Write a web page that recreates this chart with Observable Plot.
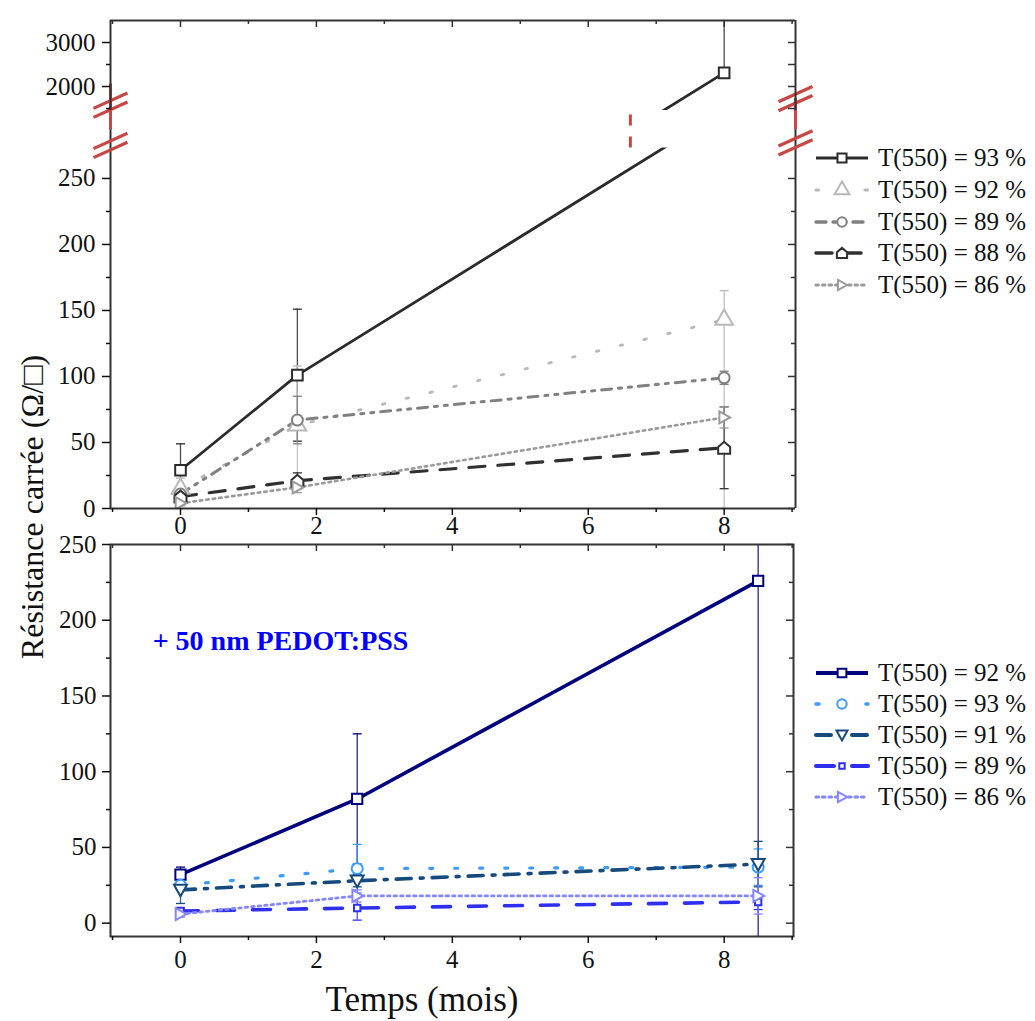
<!DOCTYPE html>
<html><head><meta charset="utf-8">
<script src="https://cdn.jsdelivr.net/npm/d3@7"></script>
<script src="https://cdn.jsdelivr.net/npm/@observablehq/plot@0.6"></script>
<style>
body{margin:0;background:#fff;}
#wrap{position:relative;width:1035px;height:1021px;overflow:hidden;font-family:"Liberation Serif","Times New Roman",serif;color:#111;}
#wrap svg{position:absolute;left:0;background:transparent !important;overflow:visible;}
#wrap svg text{font-family:"Liberation Serif","Times New Roman",serif !important;font-variant:normal !important;}
.lg{position:absolute;display:flex;align-items:center;height:30px;font-size:25px;white-space:pre;}
.lg svg{position:static !important;margin-right:8px;}
</style></head><body><div id="wrap"></div>
<script>
// ---------------- DATA ----------------
const xMajor = [0, 2, 4, 6, 8];
const xMinor = [-1, 1, 3, 5, 7, 9];
const yLowMajor = [0, 50, 100, 150, 200, 250];
const yLowMinor = [25, 75, 125, 175, 225];
const yHighMajor = [2000, 3000];
const yHighMinor = [1500, 2500];

// top panel (without PEDOT:PSS)
const topMonths = [0, 1.72, 8];
const topLabels = ["T(550) = 93 %", "T(550) = 92 %", "T(550) = 89 %", "T(550) = 88 %", "T(550) = 86 %"];
const topR93 = [29, 101, 2311];
const topR92 = [15, 63, 143];
const topR89 = [11, 67, 99];
const topR88 = [9, 21, 46];
const topR86 = [4, 16, 69];
const topUp93 = [20, 50, 1400], topDn93 = [20, 50, 0];
const topUp92 = [8, 45, 22],    topDn92 = [8, 45, 150];
const topUp89 = [4, 18, 5],     topDn89 = [4, 18, 5];
const topUp88 = [3, 6, 31],     topDn88 = [3, 6, 31];
const topUp86 = [2, 4, 8],      topDn86 = [2, 4, 8];

// bottom panel (+ 50 nm PEDOT:PSS)
const botMonths = [0, 2.6, 8.5];
const botLabels = ["T(550) = 92 %", "T(550) = 93 %", "T(550) = 91 %", "T(550) = 89 %", "T(550) = 86 %"];
const botR92 = [32, 82, 226];
const botR93 = [25, 36, 37];
const botR91 = [22, 28, 39];
const botR89 = [8, 10, 14];
const botR86 = [6, 18, 18];
const botErr92 = [5, 43, 280];
const botErr93 = [3, 16, 12];
const botErr91 = [9, 4, 15];
const botErr89 = [2, 8, 5];
const botErr86 = [2, 4, 12];

const annotation = "+ 50 nm PEDOT:PSS";
const yTitle = "Résistance carrée (Ω/□)";
const xTitle = "Temps (mois)";

// ---------------- AXIS BREAK (top panel) ----------------
const BRK_LO = 273, BRK_HI = 1455, BRK_K = 1 / 30, TOP_MAX = 3500;
const GAP_TOP = 301.5;
const s = v => v <= BRK_LO ? v : v >= BRK_HI ? BRK_LO + (v - BRK_HI) * BRK_K : BRK_LO;
const inv = d => String(Math.round(BRK_HI + (d - BRK_LO) / BRK_K));

// ---------------- STYLES ----------------
const SERIF = "Liberation Serif";
const symHouse = {draw(c, size){const r=Math.sqrt(size/Math.PI); c.moveTo(-r,r); c.lineTo(r,r); c.lineTo(r,-0.15*r); c.lineTo(0,-r); c.lineTo(-r,-0.15*r); c.closePath();}};
const symTriR = {draw(c, size){const r=Math.sqrt(size/Math.PI); c.moveTo(-0.8*r,-r); c.lineTo(r,0); c.lineTo(-0.8*r,r); c.closePath();}};
const symTriD = {draw(c, size){const r=Math.sqrt(size/Math.PI); c.moveTo(-r,-0.8*r); c.lineTo(r,-0.8*r); c.lineTo(0,r); c.closePath();}};
const symCap = {draw(c, size){const r=Math.sqrt(size/Math.PI); c.moveTo(-r,0); c.lineTo(r,0);}};
const symBreak = {draw(c, size){const r=Math.sqrt(size/Math.PI); for (const o of [-4.5,4.5]) {c.moveTo(-r, o+0.45*r); c.lineTo(r, o-0.45*r);}}};

const topStyle = [
  {color:"#2b2b2b", dash:null, w:2.8, sym:d3.symbolSquare, r:6},
  {color:"#b8b8b8", dash:"2.5,22", w:2.8, sym:d3.symbolTriangle, r:6.5},
  {color:"#808080", dash:"10,7,3,7,3,7", w:3, sym:d3.symbolCircle, r:5.5},
  {color:"#303030", dash:"16,13", w:3.2, sym:symHouse, r:6},
  {color:"#9a9a9a", dash:"2.5,4", w:2.6, sym:symTriR, r:6}
];
const botStyle = [
  {color:"#00007f", dash:null, w:3.6, sym:d3.symbolSquare, r:5.8},
  {color:"#3d9bff", dash:"3,22", w:3.2, sym:d3.symbolCircle, r:5.5},
  {color:"#174a7c", dash:"15,9,3,9", w:3.6, sym:symTriD, r:6.5},
  {color:"#2f2fef", dash:"18,18", w:3.6, sym:d3.symbolSquare, r:3.6},
  {color:"#8585ff", dash:"2.5,4", w:2.8, sym:symTriR, r:6}
];
const AX = "#333";

// ---------------- TABLES ----------------
const topVals = [topR93, topR92, topR89, topR88, topR86];
const topUps = [topUp93, topUp92, topUp89, topUp88, topUp86];
const topDns = [topDn93, topDn92, topDn89, topDn88, topDn86];
const botVals = [botR92, botR93, botR91, botR89, botR86];
const botErrs = [botErr92, botErr93, botErr91, botErr89, botErr86];

const topRows = topVals.map((vals, i) => vals.map((v, j) => ({i, t: topMonths[j], v, up: topUps[i][j], dn: topDns[i][j]})));
const botRows = botVals.map((vals, i) => vals.map((v, j) => ({i, t: botMonths[j], v, up: botErrs[i][j], dn: botErrs[i][j]})));

function seriesMarks(rows, styles, f) {
  const marks = [];
  rows.forEach((r, i) => {
    const st = styles[i];
    marks.push(Plot.ruleX(r, {x:"t", y1: d => f(d.v - d.dn), y2: d => f(d.v + d.up), stroke: st.color, strokeWidth: 1.3, strokeOpacity: 0.85, clip: true}));
    marks.push(Plot.dot(r.filter(d => d.up > 0), {x:"t", y: d => f(d.v + d.up), symbol: symCap, r: 4.5, stroke: st.color, strokeWidth: 1.3, fill: "none", clip: true}));
    marks.push(Plot.dot(r.filter(d => d.dn > 0), {x:"t", y: d => f(d.v - d.dn), symbol: symCap, r: 4.5, stroke: st.color, strokeWidth: 1.3, fill: "none", clip: true}));
  });
  rows.forEach((r, i) => {
    const st = styles[i];
    marks.push(Plot.line(r, {x:"t", y: d => f(d.v), stroke: st.color, strokeWidth: st.w, strokeDasharray: st.dash, strokeLinecap: st.dash ? "round" : "butt", clip: true}));
  });
  rows.forEach((r, i) => {
    const st = styles[i];
    marks.push(Plot.dot(r, {x:"t", y: d => f(d.v), symbol: st.sym, r: st.r, stroke: st.color, strokeWidth: 2, fill: "white", clip: true}));
  });
  return marks;
}

const plotStyle = {fontFamily: "Liberation Serif, Times New Roman, serif", fontSize: "25px", color: "#111", background: "transparent", overflow: "visible"};
const axOpt = {strokeWidth: 1.5, label: null, fontFamily: SERIF, fontSize: 25, fill: "#111"};
const wrap = document.getElementById("wrap");
const W = 800, ML = 110;

// ---------------- TOP PANEL: upper segment ----------------
const xTop = [-1.03, 9.05];
const upH = 90;
const upper = Plot.plot({
  width: W, height: 20 + upH, marginLeft: ML, marginRight: W - 795, marginTop: 20, marginBottom: 0,
  style: plotStyle,
  x: {domain: xTop, axis: null},
  y: {domain: [BRK_LO, s(TOP_MAX)]},
  marks: [
    ...seriesMarks(topRows, topStyle, s),
    Plot.ruleX(xTop, {x: d => d, stroke: AX, strokeWidth: 2}),
    Plot.ruleY([s(TOP_MAX)], {y: d => d, stroke: AX, strokeWidth: 2}),
    Plot.axisY({...axOpt, ticks: yHighMajor.map(s), tickFormat: inv, tickSize: 8, tickPadding: 7}),
    Plot.axisY({...axOpt, ticks: yHighMinor.map(s), tickFormat: () => "", tickSize: 4}),
    Plot.tickY([...yHighMajor, ...yHighMinor].map(s), {y: d => d, insetLeft: 685 - 7, stroke: AX, strokeWidth: 1.5}),
    Plot.tickX(xMajor, {x: d => d, insetBottom: upH - 7, stroke: AX, strokeWidth: 1.5}),
    Plot.tickX(xMinor, {x: d => d, insetBottom: upH - 4, stroke: AX, strokeWidth: 1.5})
  ]
});
upper.style.top = "0px";

// ---------------- TOP PANEL: lower segment ----------------
const lowTop = 147.6, lowH = 360.4;
const breakMarks = [
  {x: xTop[0], y: GAP_TOP + 4}, {x: xTop[0], y: BRK_LO + 2},
  {x: xTop[1], y: GAP_TOP + 9}, {x: xTop[1], y: BRK_LO + 4}
];
const breakRules = [
  {x: xTop[0], y1: BRK_LO + 14, y2: GAP_TOP + 20},
  {x: xTop[1], y1: BRK_LO + 14, y2: GAP_TOP + 9},
  {x: 6.62, y1: BRK_LO, y2: GAP_TOP - 1}
];
const lower = Plot.plot({
  width: W, height: lowTop + lowH + 35, marginLeft: ML, marginRight: W - 795, marginTop: lowTop, marginBottom: 35,
  style: plotStyle,
  x: {domain: xTop},
  y: {domain: [0, BRK_LO]},
  marks: [
    ...seriesMarks(topRows, topStyle, s),
    Plot.ruleX(xTop, {x: d => d, y1: 0, y2: GAP_TOP, stroke: AX, strokeWidth: 2}),
    Plot.ruleY([0], {y: d => d, stroke: AX, strokeWidth: 2}),
    Plot.axisY({...axOpt, ticks: yLowMajor, tickSize: 8, tickPadding: 7}),
    Plot.axisY({...axOpt, ticks: yLowMinor, tickFormat: () => "", tickSize: 4}),
    Plot.axisX({...axOpt, ticks: xMajor, tickSize: 7, tickPadding: 1}),
    Plot.axisX({...axOpt, ticks: xMinor, tickFormat: () => "", tickSize: 4}),
    Plot.tickY(yLowMajor, {y: d => d, insetLeft: 685 - 7, stroke: AX, strokeWidth: 1.5}),
    Plot.tickY(yLowMinor, {y: d => d, insetLeft: 685 - 4, stroke: AX, strokeWidth: 1.5}),
    Plot.ruleX(breakRules.slice(0, 2), {x: "x", y1: "y1", y2: "y2", stroke: "#c84646", strokeWidth: 3}),
    Plot.ruleX(breakRules.slice(2), {x: "x", y1: "y1", y2: "y2", stroke: "#c84646", strokeWidth: 3, strokeDasharray: "11,11"}),
    Plot.dot(breakMarks, {x: "x", y: "y", symbol: symBreak, r: 17, stroke: "#c84646", strokeWidth: 3.2, fill: "none"})
  ]
});
lower.style.top = "0px";

// ---------------- BOTTOM PANEL ----------------
const xBot = [-1.03, 9.02];
const botH = 392;
const bottom = Plot.plot({
  width: W, height: 20 + botH + 85, marginLeft: ML, marginRight: W - 793, marginTop: 20, marginBottom: 85,
  style: plotStyle,
  x: {domain: xBot},
  y: {domain: [-8.8, 250]},
  marks: [
    ...seriesMarks(botRows, botStyle, v => v),
    Plot.frame({stroke: AX, strokeWidth: 2}),
    Plot.axisY({...axOpt, ticks: yLowMajor, tickSize: 8, tickPadding: 6}),
    Plot.axisY({...axOpt, ticks: yLowMinor, tickFormat: () => "", tickSize: 4}),
    Plot.axisX({...axOpt, ticks: xMajor, tickSize: 7, tickPadding: 7}),
    Plot.axisX({...axOpt, ticks: xMinor, tickFormat: () => "", tickSize: 4}),
    Plot.tickY(yLowMajor, {y: d => d, insetLeft: 683 - 7, stroke: AX, strokeWidth: 1.5}),
    Plot.tickY(yLowMinor, {y: d => d, insetLeft: 683 - 4, stroke: AX, strokeWidth: 1.5}),
    Plot.tickX(xMajor, {x: d => d, insetBottom: botH - 7, stroke: AX, strokeWidth: 1.5}),
    Plot.tickX(xMinor, {x: d => d, insetBottom: botH - 4, stroke: AX, strokeWidth: 1.5}),
    Plot.text([annotation], {x: -0.41, y: 186, text: d => d, textAnchor: "start", fill: "#0000ff", fontWeight: "bold", fontSize: 28, fontFamily: SERIF})
  ]
});
bottom.style.top = "524px";

wrap.append(lower, upper, bottom);

// ---------------- LEGENDS ----------------
function swatch(st) {
  const svg = d3.create("svg").attr("width", 56).attr("height", 20);
  svg.append("line").attr("x1", 2).attr("x2", 54).attr("y1", 10).attr("y2", 10)
    .attr("stroke", st.color).attr("stroke-width", st.w + 0.4)
    .attr("stroke-dasharray", st.dash).attr("stroke-linecap", st.dash ? "round" : "butt");
  svg.append("path").attr("transform", "translate(28,10)")
    .attr("d", d3.symbol(st.sym, Math.PI * Math.pow(st.r * 0.85, 2))())
    .attr("fill", "white").attr("stroke", st.color).attr("stroke-width", 2);
  return svg.node();
}
function legend(labels, styles, x0, y0, dy) {
  labels.forEach((lab, i) => {
    const row = document.createElement("div");
    row.className = "lg";
    row.style.left = x0 + "px";
    row.style.top = (y0 + i * dy - 15) + "px";
    row.append(swatch(styles[i]));
    const t = document.createElement("span");
    t.textContent = lab;
    row.append(t);
    wrap.append(row);
  });
}
legend(topLabels, topStyle, 814, 158, 31.8);
legend(botLabels, botStyle, 814, 673, 31);

// ---------------- TITLES ----------------
const yt = document.createElement("div");
yt.textContent = yTitle;
Object.assign(yt.style, {position: "absolute", left: (32 - 250) + "px", top: (507 - 16) + "px", width: "500px", height: "32px", lineHeight: "32px", textAlign: "center", fontSize: "32px", transform: "rotate(-90deg)", transformOrigin: "center", whiteSpace: "nowrap"});
wrap.append(yt);
const xt = document.createElement("div");
xt.textContent = xTitle;
Object.assign(xt.style, {position: "absolute", left: "222px", width: "400px", textAlign: "center", top: "982px", fontSize: "35px", lineHeight: "36px", whiteSpace: "nowrap"});
wrap.append(xt);
</script>
</body></html>
